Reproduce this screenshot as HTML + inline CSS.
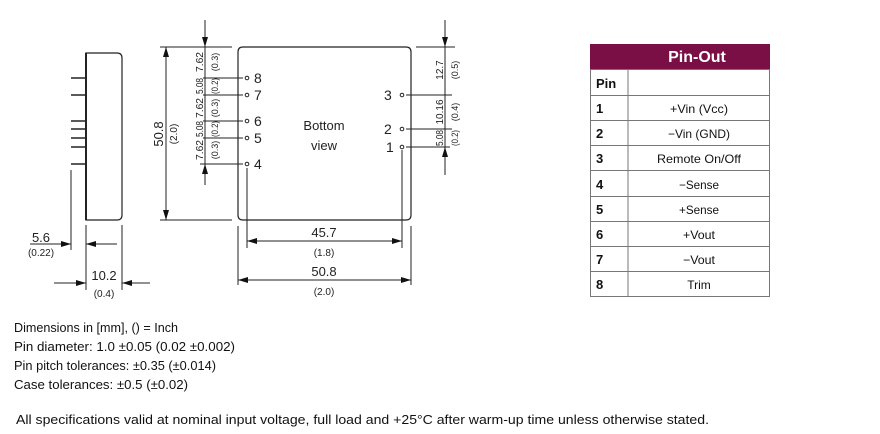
<!DOCTYPE html>
<html><head><meta charset="utf-8"><style>
html,body{margin:0;padding:0;background:#fff;}
svg{display:block;font-family:"Liberation Sans",sans-serif;}
</style></head><body>
<svg width="880" height="434" viewBox="0 0 880 434" xmlns="http://www.w3.org/2000/svg">
<defs>
<marker id="a" viewBox="0 0 10 6" refX="10" refY="3" markerWidth="10" markerHeight="6" orient="auto" markerUnits="userSpaceOnUse"><path d="M0,0L10,3L0,6z" fill="#111"/></marker>
</defs>
<g stroke="#222" fill="none" stroke-width="1">
<path d="M86,53 H117 Q122,53 122,58 V215 Q122,220 117,220 H86 Z" stroke-width="1.2"/>
<line x1="86" y1="53" x2="86" y2="220" stroke-width="2"/>
<g stroke-width="1.5">
<line x1="71" y1="78" x2="86" y2="78"/><line x1="71" y1="95" x2="86" y2="95"/>
<line x1="71" y1="121" x2="86" y2="121"/><line x1="71" y1="129" x2="86" y2="129"/>
<line x1="71" y1="138" x2="86" y2="138"/><line x1="71" y1="147" x2="86" y2="147"/>
<line x1="71" y1="164" x2="86" y2="164"/>
</g>
<line x1="71" y1="170" x2="71" y2="250"/>
<line x1="86" y1="225" x2="86" y2="290"/>
<line x1="122" y1="225" x2="122" y2="290"/>
<line x1="30" y1="244" x2="71" y2="244" marker-end="url(#a)"/>
<line x1="117" y1="244" x2="86" y2="244" marker-end="url(#a)"/>
<line x1="54" y1="283" x2="86" y2="283" marker-end="url(#a)"/>
<line x1="150" y1="283" x2="122" y2="283" marker-end="url(#a)"/>
<path d="M243,47 H406 Q411,47 411,52 V215 Q411,220 406,220 H243 Q238,220 238,215 V52 Q238,47 243,47 Z" stroke-width="1.2"/>
<line x1="160" y1="47" x2="232" y2="47"/>
<line x1="160" y1="220" x2="232" y2="220"/>
<line x1="166" y1="134" x2="166" y2="47" marker-end="url(#a)"/>
<line x1="166" y1="134" x2="166" y2="220" marker-end="url(#a)"/>
<line x1="205" y1="20" x2="205" y2="47" marker-end="url(#a)"/>
<line x1="205" y1="47" x2="205" y2="164"/>
<line x1="205" y1="185" x2="205" y2="164" marker-end="url(#a)"/>
<line x1="203" y1="78" x2="243" y2="78"/><line x1="203" y1="95" x2="243" y2="95"/>
<line x1="203" y1="121" x2="243" y2="121"/><line x1="203" y1="138" x2="243" y2="138"/>
<line x1="200" y1="164" x2="243" y2="164"/>
<circle cx="247" cy="78" r="1.8"/><circle cx="247" cy="95" r="1.8"/><circle cx="247" cy="121" r="1.8"/>
<circle cx="247" cy="138" r="1.8"/><circle cx="247" cy="164" r="1.8"/>
<circle cx="402" cy="95" r="1.8"/><circle cx="402" cy="129" r="1.8"/><circle cx="402" cy="147" r="1.8"/>
<line x1="406" y1="95" x2="452" y2="95"/><line x1="406" y1="129" x2="452" y2="129"/>
<line x1="406" y1="147" x2="450" y2="147"/>
<line x1="416" y1="47" x2="455" y2="47"/>
<line x1="445" y1="20" x2="445" y2="47" marker-end="url(#a)"/>
<line x1="445" y1="47" x2="445" y2="147"/>
<line x1="445" y1="175" x2="445" y2="147" marker-end="url(#a)"/>
<line x1="247" y1="168" x2="247" y2="248"/>
<line x1="402" y1="150" x2="402" y2="248"/>
<line x1="238" y1="226" x2="238" y2="285"/>
<line x1="411" y1="226" x2="411" y2="285"/>
<line x1="324" y1="241" x2="247" y2="241" marker-end="url(#a)"/>
<line x1="324" y1="241" x2="402" y2="241" marker-end="url(#a)"/>
<line x1="324" y1="280" x2="238" y2="280" marker-end="url(#a)"/>
<line x1="324" y1="280" x2="411" y2="280" marker-end="url(#a)"/>
</g>
<g fill="#222" font-size="14">
<text x="254" y="83">8</text><text x="254" y="100">7</text><text x="254" y="126">6</text>
<text x="254" y="143">5</text><text x="254" y="169">4</text>
<text x="384" y="100">3</text><text x="384" y="134">2</text><text x="386" y="152">1</text>
</g>
<g fill="#222" font-size="13" text-anchor="middle">
<text x="324" y="130">Bottom</text><text x="324" y="150">view</text>
<text x="324" y="237">45.7</text><text x="324" y="276">50.8</text>
<text x="41" y="242">5.6</text><text x="104" y="280">10.2</text>
<text transform="translate(163,134) rotate(-90)">50.8</text>
</g>
<g fill="#222" font-size="10" text-anchor="middle">
<text x="324" y="256">(1.8)</text><text x="324" y="295">(2.0)</text>
<text x="41" y="256">(0.22)</text><text x="104" y="297">(0.4)</text>
<text transform="translate(177,134) rotate(-90)">(2.0)</text>
</g>
<g fill="#222" font-size="10" text-anchor="middle">
<g transform="translate(203,0)">
<text transform="translate(0,62) rotate(-90)" textLength="20" lengthAdjust="spacingAndGlyphs">7.62</text>
<text transform="translate(0,86) rotate(-90)" textLength="16" lengthAdjust="spacingAndGlyphs">5.08</text>
<text transform="translate(0,108) rotate(-90)" textLength="20" lengthAdjust="spacingAndGlyphs">7.62</text>
<text transform="translate(0,129) rotate(-90)" textLength="16" lengthAdjust="spacingAndGlyphs">5.08</text>
<text transform="translate(0,150) rotate(-90)" textLength="20" lengthAdjust="spacingAndGlyphs">7.62</text>
</g>
<g transform="translate(218,0)" font-size="9">
<text transform="translate(0,62) rotate(-90)">(0.3)</text>
<text transform="translate(0,86) rotate(-90)" textLength="16" lengthAdjust="spacingAndGlyphs">(0.2)</text>
<text transform="translate(0,108) rotate(-90)">(0.3)</text>
<text transform="translate(0,129) rotate(-90)" textLength="16" lengthAdjust="spacingAndGlyphs">(0.2)</text>
<text transform="translate(0,150) rotate(-90)">(0.3)</text>
</g>
<g transform="translate(443,0)">
<text transform="translate(0,70) rotate(-90)">12.7</text>
<text transform="translate(0,112) rotate(-90)">10.16</text>
<text transform="translate(0,138) rotate(-90)" textLength="16" lengthAdjust="spacingAndGlyphs">5.08</text>
</g>
<g transform="translate(458,0)" font-size="9">
<text transform="translate(0,70) rotate(-90)">(0.5)</text>
<text transform="translate(0,112) rotate(-90)">(0.4)</text>
<text transform="translate(0,138) rotate(-90)" textLength="16" lengthAdjust="spacingAndGlyphs">(0.2)</text>
</g>
</g>
<rect x="590" y="44" width="180" height="25" fill="#7a0f45"/>
<text x="697" y="62" fill="#fff" font-size="16" font-weight="bold" text-anchor="middle">Pin-Out</text>
<g stroke="#777" fill="none" stroke-width="1">
<rect x="590.5" y="69.5" width="179" height="227"/>
<line x1="628" y1="69" x2="628" y2="296"/>
<line x1="590" y1="95.5" x2="770" y2="95.5"/><line x1="590" y1="120.5" x2="770" y2="120.5"/>
<line x1="590" y1="145.5" x2="770" y2="145.5"/><line x1="590" y1="170.5" x2="770" y2="170.5"/>
<line x1="590" y1="196.5" x2="770" y2="196.5"/><line x1="590" y1="221.5" x2="770" y2="221.5"/>
<line x1="590" y1="246.5" x2="770" y2="246.5"/><line x1="590" y1="271.5" x2="770" y2="271.5"/>
</g>
<g fill="#111" font-size="13" font-weight="bold">
<text x="596" y="88">Pin</text>
<text x="596" y="113">1</text><text x="596" y="138">2</text><text x="596" y="163">3</text>
<text x="596" y="189">4</text><text x="596" y="214">5</text><text x="596" y="239">6</text>
<text x="596" y="264">7</text><text x="596" y="289">8</text>
</g>
<g fill="#111" font-size="12" text-anchor="middle">
<text x="699" y="113" textLength="58" lengthAdjust="spacingAndGlyphs">+Vin (Vcc)</text>
<text x="699" y="138" textLength="62" lengthAdjust="spacingAndGlyphs">−Vin (GND)</text>
<text x="699" y="163" textLength="84" lengthAdjust="spacingAndGlyphs">Remote On/Off</text>
<text x="699" y="189" textLength="40" lengthAdjust="spacingAndGlyphs">−Sense</text>
<text x="699" y="214" textLength="40" lengthAdjust="spacingAndGlyphs">+Sense</text>
<text x="699" y="239" textLength="32" lengthAdjust="spacingAndGlyphs">+Vout</text>
<text x="699" y="264" textLength="32" lengthAdjust="spacingAndGlyphs">−Vout</text>
<text x="699" y="289">Trim</text>
</g>
<g fill="#111" font-size="13">
<text x="14" y="332" textLength="164" lengthAdjust="spacingAndGlyphs">Dimensions in [mm], () = Inch</text>
<text x="14" y="351" textLength="221" lengthAdjust="spacingAndGlyphs">Pin diameter: 1.0 ±0.05 (0.02 ±0.002)</text>
<text x="14" y="370" textLength="202" lengthAdjust="spacingAndGlyphs">Pin pitch tolerances: ±0.35 (±0.014)</text>
<text x="14" y="389" textLength="174" lengthAdjust="spacingAndGlyphs">Case tolerances:  ±0.5 (±0.02)</text>
<text x="16" y="424" textLength="693" lengthAdjust="spacingAndGlyphs">All specifications valid at nominal input voltage, full load and +25°C after warm-up time unless otherwise stated.</text>
</g>
</svg>
</body></html>
